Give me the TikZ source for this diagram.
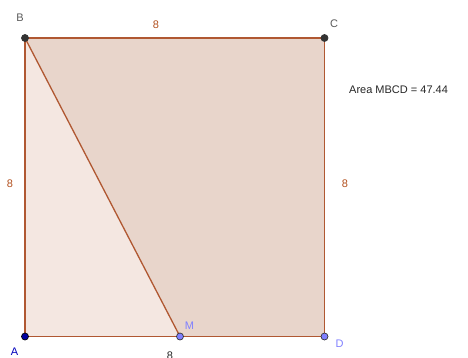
\documentclass[tikz,border=0pt]{standalone}
\usepackage{fontspec}
\setmainfont{Liberation Sans}
\begin{document}
\begin{tikzpicture}[x=1pt,y=-1pt,
  edge/.style={draw=brownline,line width=1.3pt},
  pt/.style={circle,inner sep=0pt,minimum size=7pt,draw=black!80,line width=0.7pt},
  lbl/.style={font=\fontsize{11}{13}\selectfont,inner sep=0pt},
  seglbl/.style={lbl,text=seglab}]
\definecolor{brownline}{RGB}{176,88,50}
\definecolor{seglab}{RGB}{178,80,30}
\definecolor{fillbig}{RGB}{232,213,203}
\definecolor{fillsmall}{RGB}{244,231,225}
\definecolor{ptgray}{RGB}{51,51,51}
\definecolor{ptblue}{RGB}{0,0,160}
\definecolor{ptlight}{RGB}{128,128,255}
\definecolor{lblgray}{RGB}{90,90,90}
\useasboundingbox (0,0) rectangle (468,357);
\coordinate (A) at (25,336.5);
\coordinate (B) at (25,38);
\coordinate (C) at (324.5,38);
\coordinate (D) at (324.5,336.5);
\coordinate (M) at (180,336.5);
\fill[fillsmall] (A) -- (B) -- (M) -- cycle;
\fill[fillbig] (M) -- (B) -- (C) -- (D) -- cycle;
\draw[edge] (B) -- (C);
\draw[edge] (C) -- (D);
\draw[edge] (D) -- (A);
\draw[edge] (A) -- (B);
\draw[edge] (B) -- (M);
\node[pt,fill=ptgray] (pB) at (B) {};
\node[pt,fill=ptgray] (pC) at (C) {};
\node[pt,fill=ptblue,draw=black] (pA) at (A) {};
\node[pt,fill=ptlight,draw=black!80] (pM) at (M) {};
\node[pt,fill=ptlight,draw=black!80] (pD) at (D) {};
\node[lbl,text=lblgray] (lB) at (20,18) {B};
\node[lbl,text=lblgray] (lC) at (334,24) {C};
\node[lbl,text=ptblue!70!blue] (lA) at (14.5,352) {A};
\node[lbl,text=ptlight] (lM) at (189.5,325.5) {M};
\node[lbl,text=ptlight] (lD) at (339.5,343.5) {D};
\node[seglbl] (sBC) at (156,24.5) {8};
\node[seglbl] (sAB) at (10,183.5) {8};
\node[seglbl] (sCD) at (345,183.5) {8};
\node[lbl,text=black!85] (sAD) at (170,356) {8};
\node[lbl,text=black!85,anchor=west] (area) at (349,90) {Area MBCD = 47.44};
\end{tikzpicture}
\end{document}
